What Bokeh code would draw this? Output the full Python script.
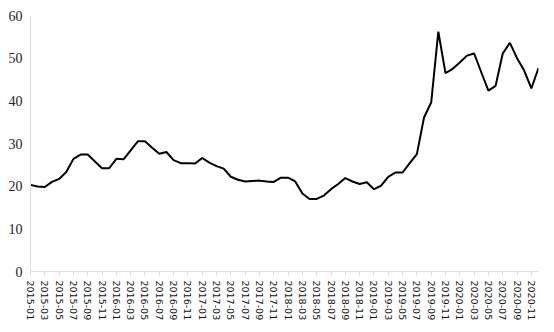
from bokeh.plotting import figure
from bokeh.models import Range1d, FixedTicker
from bokeh.embed import file_html
from bokeh.resources import INLINE

months = [f"{y}-{m:02d}" for y in range(2015, 2021) for m in range(1, 13)]

values = [
    20.3, 19.9, 19.8, 21.0, 21.7, 23.3, 26.4, 27.4, 27.4, 25.8, 24.2, 24.2,
    26.4, 26.3, 28.4, 30.5, 30.5, 29.0, 27.6, 28.0, 26.1, 25.4, 25.4, 25.3,
    26.6, 25.5, 24.7, 24.1, 22.2, 21.5, 21.1, 21.2, 21.3, 21.1, 21.0, 22.0,
    22.0, 21.1, 18.3, 17.0, 17.0, 17.8, 19.3, 20.5, 21.9, 21.1, 20.5, 20.9,
    19.3, 20.1, 22.2, 23.2, 23.2, 25.4, 27.5, 36.1, 39.6, 56.2, 46.5, 47.5,
    49.0, 50.6, 51.1, 46.7, 42.4, 43.5, 51.1, 53.6, 50.0, 47.1, 42.9, 47.7,
]

x = list(range(len(months)))

p = figure(width=554, height=332, output_backend="svg", toolbar_location=None,
           x_range=Range1d(0, len(months) - 1), y_range=Range1d(0, 60),
           min_border_left=30, min_border_right=16, min_border_top=15,
           min_border_bottom=61)
p.outline_line_color = None
p.grid.visible = False

p.line(x, values, line_color="black", line_width=2)

tick_idx = list(range(0, len(months), 2))
p.xaxis.ticker = FixedTicker(ticks=tick_idx)
p.xaxis.major_label_overrides = {i: months[i] for i in tick_idx}
p.xaxis.major_label_orientation = "vertical"
p.xaxis.major_label_text_font = "DejaVu Sans"
p.xaxis.major_label_text_font_size = "9.5px"
p.xaxis.major_label_text_color = "#111"
p.xaxis.axis_line_color = "#dddddd"
p.xaxis.major_tick_line_color = "#dddddd"
p.xaxis.major_tick_out = 4
p.xaxis.major_tick_in = 0
p.xaxis.minor_tick_line_color = None
p.xaxis.major_label_standoff = 5

p.yaxis.ticker = FixedTicker(ticks=[0, 10, 20, 30, 40, 50, 60])
p.yaxis.major_label_text_font = "Liberation Serif"
p.yaxis.major_label_text_font_size = "14px"
p.yaxis.major_label_text_color = "#222"
p.yaxis.axis_line_color = "#dddddd"
p.yaxis.major_tick_line_color = None
p.yaxis.minor_tick_line_color = None
p.yaxis.major_tick_out = 0
p.yaxis.major_tick_in = 0
p.yaxis.major_label_standoff = 8

open("out.html", "w").write(file_html(p, INLINE))
